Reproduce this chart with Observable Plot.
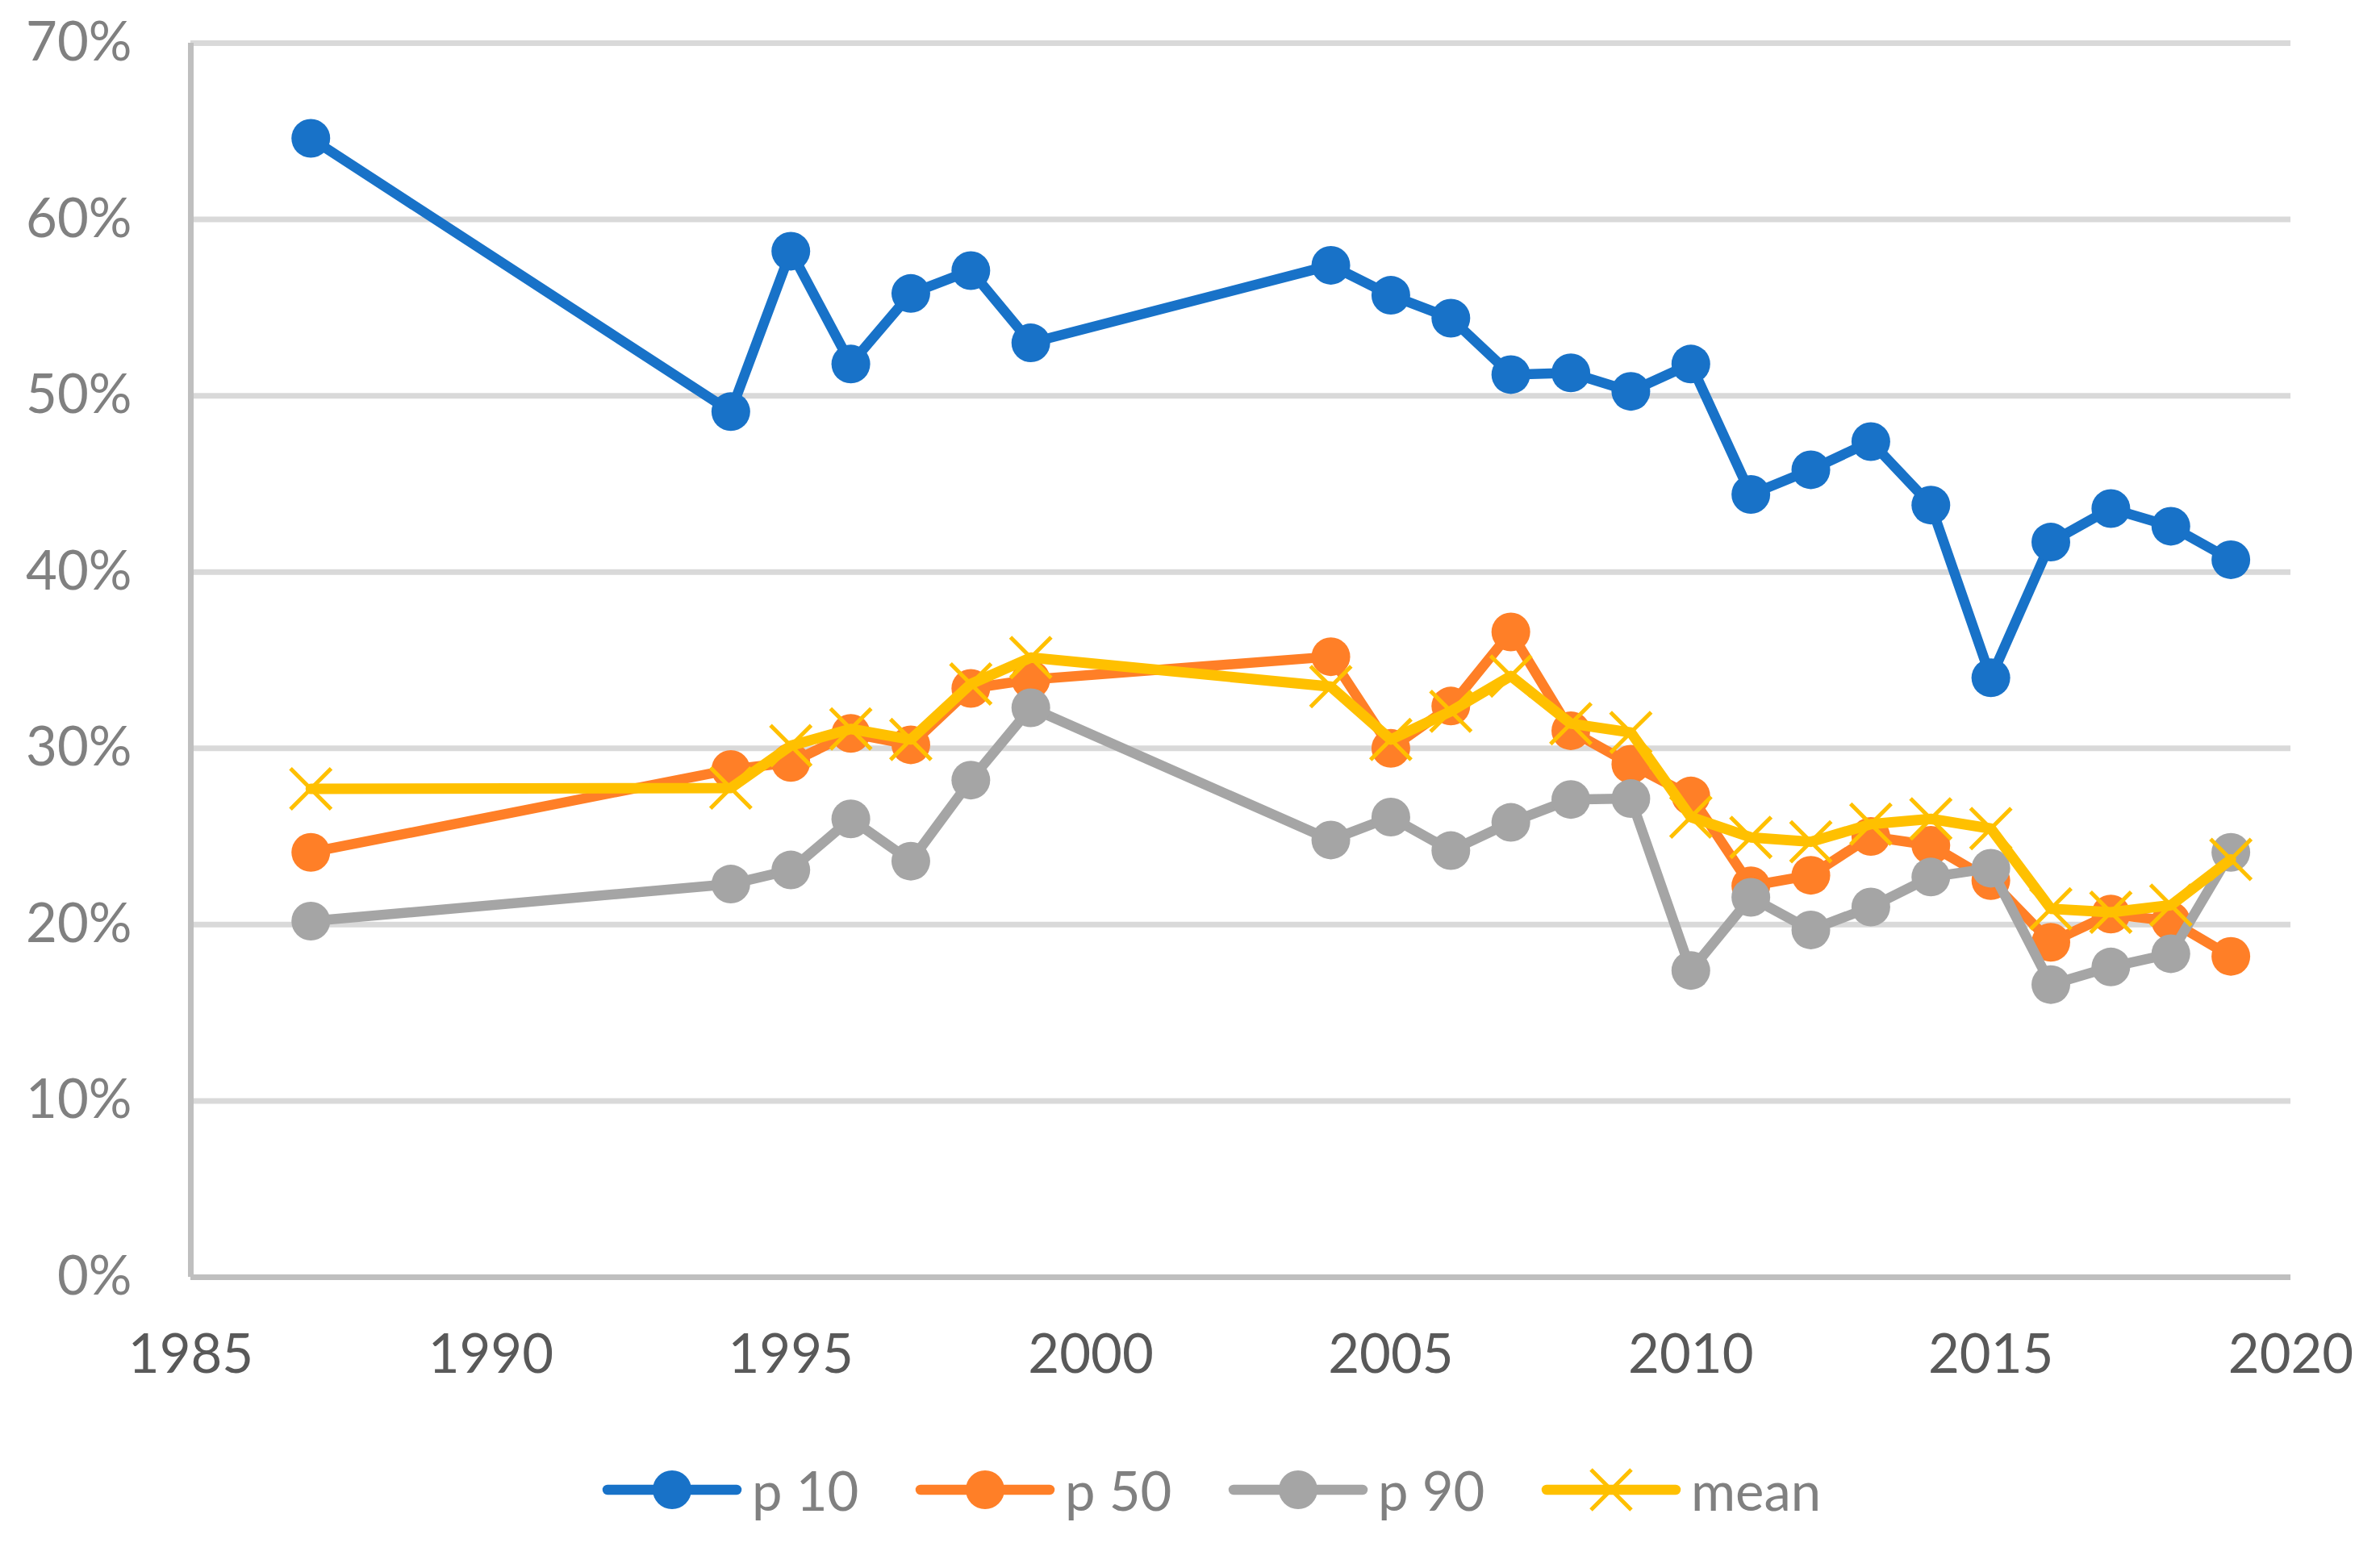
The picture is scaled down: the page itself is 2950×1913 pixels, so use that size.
<!DOCTYPE html>
<html>
<head>
<meta charset="utf-8">
<script src="https://cdn.jsdelivr.net/npm/d3@7"></script>
<script src="https://cdn.jsdelivr.net/npm/@observablehq/plot@0.6"></script>
<style>
  html, body { margin: 0; padding: 0; background: #ffffff; }
  #wrap { position: relative; width: 2950px; height: 1913px; font-family: Lato, "Open Sans", sans-serif; }
  #legend { position: absolute; left: 747px; top: 1817px; height: 60px; display: flex; align-items: center; }
  .item { display: flex; align-items: center; width: 388px; }
  .item:last-child { width: auto; }
  .item span { margin-left: 13px; font-size: 67px; line-height: 1; color: #808080; }
</style>
</head>
<body>
<div id="wrap">
  <div id="chart"></div>
  <div id="legend"></div>
</div>
<script>
// ---- data (values in percent) ----
const years = [1987, 1994, 1995, 1996, 1997, 1998, 1999, 2004, 2005, 2006, 2007, 2008, 2009, 2010, 2011, 2012, 2013, 2014, 2015, 2016, 2017, 2018, 2019];
const p10  = [64.6, 49.1, 58.2, 51.8, 55.8, 57.1, 53.0, 57.4, 55.7, 54.4, 51.2, 51.3, 50.25, 51.8, 44.4, 45.8, 47.4, 43.8, 34.0, 41.7, 43.6, 42.6, 40.7];
const p50  = [24.1, 28.8, 29.2, 30.85, 30.2, 33.4, 33.9, 35.2, 30.0, 32.4, 36.6, 31.0, 29.1, 27.3, 22.2, 22.8, 25.0, 24.5, 22.5, 19.0, 20.6, 20.2, 18.2];
const p90  = [20.2, 22.3, 23.1, 26.0, 23.6, 28.2, 32.3, 24.8, 26.1, 24.2, 25.8, 27.1, 27.15, 17.4, 21.55, 19.7, 21.0, 22.7, 23.2, 16.6, 17.6, 18.35, 24.1];
const mean = [27.7, 27.75, 30.15, 31.1, 30.5, 33.65, 35.15, 33.5, 30.5, 32.1, 34.1, 31.4, 30.9, 26.1, 24.95, 24.7, 25.7, 26.0, 25.45, 20.9, 20.7, 21.1, 23.7];

const seriesNames = ["p 10", "p 50", "p 90", "mean"];
const seriesColors = ["#1872C8", "#FF7F27", "#A5A5A5", "#FFC000"];
const xTicks = [1985, 1990, 1995, 2000, 2005, 2010, 2015, 2020];
const yTicks = [0, 10, 20, 30, 40, 50, 60, 70];

const table = years.map((year, i) => ({year, p10: p10[i], p50: p50[i], p90: p90[i], mean: mean[i]}));
const keys = ["p10", "p50", "p90", "mean"];

const seriesMarks = [];
keys.forEach((k, i) => {
  const color = seriesColors[i];
  const isMean = k === "mean";
  seriesMarks.push(Plot.line(table, {
    x: "year", y: k, stroke: color, strokeWidth: isMean ? 13 : 12.5,
    strokeLinejoin: "round", strokeLinecap: "round"
  }));
  if (isMean) {
    seriesMarks.push(Plot.dot(table, {x: "year", y: k, symbol: "times", r: 23, stroke: color, strokeWidth: 5}));
  } else {
    seriesMarks.push(Plot.dot(table, {x: "year", y: k, r: 24, fill: color, stroke: "none"}));
  }
});

const chart = Plot.plot({
  width: 2950,
  height: 1780,
  marginLeft: 236,
  marginRight: 111,
  marginTop: 53,
  marginBottom: 197,
  style: {fontFamily: "Lato, 'Open Sans', sans-serif", background: "#ffffff", overflow: "visible"},
  x: {domain: [1985, 2020]},
  y: {domain: [0, 70]},
  marks: [
    Plot.gridY(yTicks.filter(d => d > 0), {stroke: "#d9d9d9", strokeWidth: 7, strokeOpacity: 1}),
    Plot.ruleY([0], {stroke: "#bfbfbf", strokeWidth: 7}),
    Plot.ruleX([1985], {stroke: "#bfbfbf", strokeWidth: 7}),
    Plot.axisX({ticks: xTicks, tickFormat: d => String(d), tickSize: 0, tickPadding: 71, fontSize: 67, color: "#595959", label: null}),
    Plot.axisY({ticks: yTicks, tickFormat: d => d + "%", tickSize: 0, tickPadding: 73, fontSize: 67, color: "#808080", label: null}),
    ...seriesMarks
  ]
});
document.getElementById("chart").appendChild(chart);

// ---- legend ----
const legend = document.getElementById("legend");
const svgNS = "http://www.w3.org/2000/svg";
seriesNames.forEach((name, i) => {
  const item = document.createElement("div");
  item.className = "item";
  const svg = document.createElementNS(svgNS, "svg");
  svg.setAttribute("width", "172");
  svg.setAttribute("height", "60");
  svg.style.overflow = "visible";
  const line = document.createElementNS(svgNS, "line");
  line.setAttribute("x1", "6"); line.setAttribute("x2", "166");
  line.setAttribute("y1", "30"); line.setAttribute("y2", "30");
  line.setAttribute("stroke", seriesColors[i]);
  line.setAttribute("stroke-width", "12.5");
  line.setAttribute("stroke-linecap", "round");
  svg.appendChild(line);
  if (i === 3) {
    const p = document.createElementNS(svgNS, "path");
    p.setAttribute("d", "M61,5L111,55M61,55L111,5");
    p.setAttribute("stroke", seriesColors[i]);
    p.setAttribute("stroke-width", "5");
    p.setAttribute("fill", "none");
    svg.appendChild(p);
  } else {
    const c = document.createElementNS(svgNS, "circle");
    c.setAttribute("cx", "86"); c.setAttribute("cy", "30"); c.setAttribute("r", "24");
    c.setAttribute("fill", seriesColors[i]);
    svg.appendChild(c);
  }
  item.appendChild(svg);
  const span = document.createElement("span");
  span.textContent = name;
  item.appendChild(span);
  legend.appendChild(item);
});
</script>
</body>
</html>
